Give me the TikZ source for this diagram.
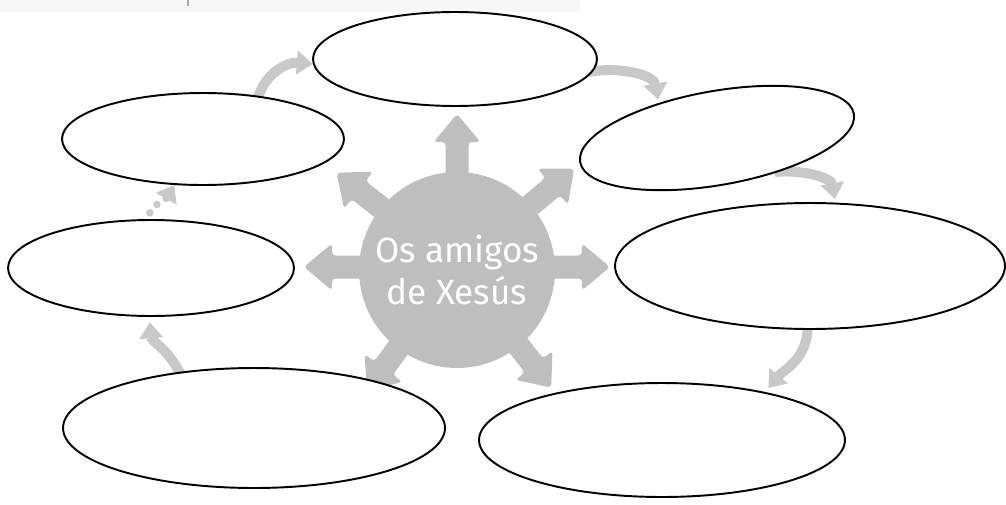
\documentclass[tikz,border=0pt]{standalone}
\usepackage{fontspec}
\setmainfont{Fira Sans}
\usetikzlibrary{arrows.meta,backgrounds,shapes.geometric}
\definecolor{hubgray}{RGB}{190,190,190}
\definecolor{flowgray}{RGB}{200,200,200}

\begin{document}
\begin{tikzpicture}[
  x = 0.02cm, y = -0.02cm,
  oval/.style = {draw, ellipse, fill = white, line width = 1.1pt, inner sep = 0pt},
  hub/.style = {circle, fill = hubgray, text = white, minimum size = 3.92cm,
                inner sep = 0pt, align = center, font = \fontsize{20}{23.5}\selectfont},
  flow/.style = {draw = flowgray, line width = 0.2cm, shorten <= -0.1cm,
                 -{Triangle[length = 0.32cm, width = 0.46cm]}},
  ]
  \useasboundingbox (0,0) rectangle (1006,504);
  \fill[gray!6] (0,0) rectangle (580,12);
  \draw[gray!70, line width = 0.7pt] (188,0) -- (188,6);

  \node[oval, minimum width = 5.68cm, minimum height = 1.88cm] (top) at (455,59) {};
  \node[oval, minimum width = 5.64cm, minimum height = 1.84cm] (upleft) at (203,139) {};
  \node[oval, minimum width = 5.56cm, minimum height = 1.88cm, rotate = 10] (upright) at (717,138) {};
  \node[oval, minimum width = 5.72cm, minimum height = 1.92cm] (left) at (151,268) {};
  \node[oval, minimum width = 7.80cm, minimum height = 2.52cm] (right) at (810,266) {};
  \node[oval, minimum width = 7.64cm, minimum height = 2.40cm] (lowleft) at (254,428) {};
  \node[oval, minimum width = 7.32cm, minimum height = 2.28cm] (lowright) at (662,440) {};

  \begin{scope}[on background layer]
    \coordinate (mid) at (457,267);
    \foreach \a in {90,40,0,-52,-126,180,142}
      \fill[hubgray, rounded corners = 2pt, shift = {(mid)}, rotate = \a]
        (0cm,-0.23cm) -- (2.5cm,-0.23cm) -- (2.5cm,-0.47cm) -- (3.06cm,0cm)
        -- (2.5cm,0.47cm) -- (2.5cm,0.23cm) -- (0cm,0.23cm) -- cycle;
    \node[hub] (hub) at (457,270) {Os amigos\\de Xesús};
    % round the circle, clockwise
    \draw[flow] (upleft.38) to[out=75, in=175] (top.182);
    \draw[flow, shorten >= 2pt] (top.-5) to[out=10, in=100] (upright.139);
    \draw[flow, shorten >= 2pt] (upright.-38) to[out=5, in=100] (right.68);
    \draw[flow, shorten >= 3pt] (right.-92) to[out=-90, in=50] (lowright.25);
    \draw[flow, shorten >= 3pt] (lowleft.143) to[out=115, in=-85] (left.-92);
    \draw[flow, line width = 0.15cm, line cap = round, dash pattern = on 0cm off 0.22cm,
          dash phase = 0.08cm, shorten <= 0cm] (left.95) to[out=70, in=240] (upleft.-122);
  \end{scope}
\end{tikzpicture}
\end{document}
